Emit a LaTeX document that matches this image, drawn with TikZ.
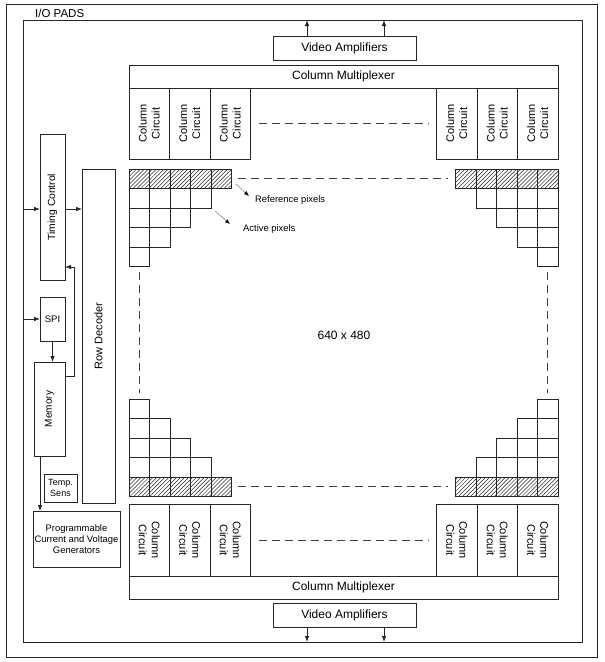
\documentclass[tikz,border=0pt]{standalone}
\usepackage{fontspec}
\setmainfont{Liberation Sans}
\usetikzlibrary{arrows.meta,patterns.meta}
\newcommand{\fsz}[2]{\fontsize{#1}{#2}\selectfont}
\begin{document}
\begin{tikzpicture}[x=1pt,y=-1pt,
  box/.style={draw=black!85, line width=0.8pt, inner sep=0pt, outer sep=0pt, anchor=north west},
  ln/.style={draw=black!85, line width=0.8pt},
  arr/.style={ln, -{Latex[length=6pt,width=4.5pt]}},
  dsh/.style={draw=black!75, line width=0.8pt, dash pattern=on 8pt off 5pt},
  hatch/.style={ln, pattern={Lines[angle=45,distance=2.8pt,line width=0.5pt]}, pattern color=black!85},
  thinarr/.style={draw=black!45, line width=0.6pt, -{Latex[length=5pt,width=4pt,black]}},
  ccbox/.style={box, minimum width=40.5pt},
  cctxt/.style={font=\fsz{11}{13}, align=center, inner sep=0pt}
]
\useasboundingbox (0,0) rectangle (605,662);
% frames
\node[box, minimum width=591pt, minimum height=653pt] (outer) at (6,4) {};
\node[box, minimum width=559pt, minimum height=622pt] (inner) at (23,20) {};
\node[font=\fsz{11.5}{13}, anchor=west, inner sep=0pt] (io) at (35,13) {I/O PADS};

% top
\node[box, minimum width=143pt, minimum height=24pt, font=\fsz{12}{14}] (vidT) at (273,36) {Video Amplifiers};
\draw[arr] ([xshift=34pt]vidT.north west) -- ([xshift=34pt]vidT.north west |- inner.north);
\draw[arr] ([xshift=111pt]vidT.north west) -- ([xshift=111pt]vidT.north west |- inner.north);
\node[box, minimum width=429pt, minimum height=23pt, font=\fsz{12}{14}] (muxT) at (129,65) {Column Multiplexer};
\foreach \k/\x in {1/129,2/169.5,3/210,4/436.5,5/477,6/517.5}{
  \node[ccbox, minimum height=71pt] (ccT\k) at (\x,88) {};
  \node[cctxt, rotate=90] at (ccT\k.center) {Column\\Circuit};
}
\draw[dsh] ([xshift=8pt]ccT3.east) -- ([xshift=-8pt]ccT4.west);

% bottom
\foreach \k/\x in {1/129,2/169.5,3/210,4/436.5,5/477,6/517.5}{
  \node[ccbox, minimum height=72pt] (ccB\k) at (\x,504) {};
  \node[cctxt, rotate=-90] at (ccB\k.center) {Column\\Circuit};
}
\draw[dsh] ([xshift=8pt]ccB3.east) -- ([xshift=-8pt]ccB4.west);
\node[box, minimum width=429pt, minimum height=23pt, font=\fsz{12}{14}] (muxB) at (129,576) {Column Multiplexer};
\node[box, minimum width=143pt, minimum height=24pt, font=\fsz{12}{14}] (vidB) at (273,603) {Video Amplifiers};
\draw[arr] ([xshift=34pt]vidB.south west) -- ([xshift=34pt]vidB.south west |- inner.south);
\draw[arr] ([xshift=111pt]vidB.south west) -- ([xshift=111pt]vidB.south west |- inner.south);

% pixel arrays
\def\cw{20.5}\def\ch{19.5}
% top-left
\foreach \j in {0,...,4} \draw[hatch] (129+\j*\cw,169) rectangle ++(\cw,\ch);
\foreach \i/\n in {1/3,2/2,3/1,4/0} \foreach \j in {0,...,\n} \draw[ln] (129+\j*\cw,169+\i*\ch) rectangle ++(\cw,\ch);
% top-right
\foreach \j in {0,...,4} \draw[hatch] (455.5+\j*\cw,169) rectangle ++(\cw,\ch);
\foreach \i in {1,...,4} \foreach \j in {\i,...,4} \draw[ln] (455.5+\j*\cw,169+\i*\ch) rectangle ++(\cw,\ch);
% bottom-left
\foreach \j in {0,...,4} \draw[hatch] (129+\j*\cw,477) rectangle ++(\cw,\ch);
\foreach \i/\n in {1/3,2/2,3/1,4/0} \foreach \j in {0,...,\n} \draw[ln] (129+\j*\cw,477-\i*\ch) rectangle ++(\cw,\ch);
% bottom-right
\foreach \j in {0,...,4} \draw[hatch] (455.5+\j*\cw,477) rectangle ++(\cw,\ch);
\foreach \i in {1,...,4} \foreach \j in {\i,...,4} \draw[ln] (455.5+\j*\cw,477-\i*\ch) rectangle ++(\cw,\ch);
% dashed continuations
\draw[dsh] (238,178.75) -- (448,178.75);
\draw[dsh] (238,486.75) -- (448,486.75);
\draw[dsh] (139.25,272) -- (139.25,393);
\draw[dsh] (547.75,272) -- (547.75,393);

\node[font=\fsz{12}{14}] (res) at (344,335) {640 x 480};

% pixel labels
\node[font=\fsz{9.4}{11}, anchor=west, inner sep=0pt] (reflab) at (255,200) {Reference pixels};
\node[font=\fsz{9.4}{11}, anchor=west, inner sep=0pt] (actlab) at (243,229) {Active pixels};
\coordinate (ra) at (236,184); \coordinate (rb) at (249,196);
\coordinate (aa) at (215,211); \coordinate (ab) at (230,224);
\draw[thinarr] (ra) -- (rb);
\draw[thinarr] (aa) -- (ab);

% left side blocks
\node[box, minimum width=25pt, minimum height=146pt] (timing) at (40,134) {};
\node[rotate=90, font=\fsz{10.3}{12}, inner sep=0pt] at (timing.center) {Timing Control};
\node[box, minimum width=33pt, minimum height=334pt] (rowdec) at (82,169) {};
\node[rotate=90, font=\fsz{11}{13}, inner sep=0pt] at (rowdec.center) {Row Decoder};
\node[box, minimum width=25pt, minimum height=44pt, font=\fsz{9.5}{11}] (spi) at (40,297) {SPI};
\node[box, minimum width=31pt, minimum height=94pt] (memory) at (34,362) {};
\node[rotate=90, font=\fsz{10}{12}, inner sep=0pt] at (memory.center) {Memory};
\node[box, minimum width=33pt, minimum height=28pt, font=\fsz{9}{10.7}, align=center] (temp) at (44,474) {Temp.\\Sens};
\node[box, minimum width=87pt, minimum height=56pt, font=\fsz{9.4}{11}, align=center] (prog) at (33,511) {Programmable\\Current and Voltage\\Generators};

% left connectors
\draw[arr] ([yshift=-2pt]timing.west -| inner.west) -- ([yshift=-2pt]timing.west);
\draw[arr] ([yshift=-2pt]timing.east) -- ([yshift=-2pt]timing.east -| rowdec.west);
\draw[arr] (spi.west -| inner.west) -- (spi.west);
\draw[arr] (spi.south) -- (spi.south |- memory.north);
\coordinate (fbx) at (74,267);
\draw[arr] ([yshift=-14pt]memory.north east) -| (fbx) -- (fbx -| timing.east);
\draw[arr] ([xshift=6pt]memory.south west) -- ([xshift=6pt]memory.south west |- prog.north);
\end{tikzpicture}
\end{document}
